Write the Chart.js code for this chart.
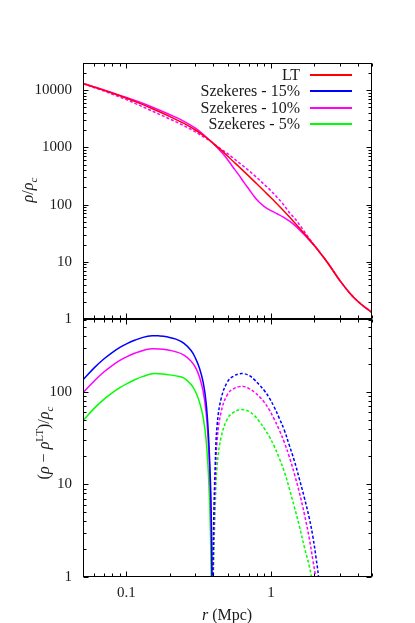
<!DOCTYPE html>
<html><head><meta charset="utf-8">
<script src="https://cdn.jsdelivr.net/npm/chart.js@4.4.1/dist/chart.umd.min.js"></script>
<style>
html,body{margin:0;padding:0;background:#fff;}
#wrap{position:relative;width:415px;height:623px;overflow:hidden;font-family:"Liberation Serif","DejaVu Serif",serif;color:#1a1a1a;}
canvas{position:absolute;left:0;}
#c1{top:0;}
#c2{top:310px;}
.t{position:absolute;white-space:nowrap;font-size:16px;line-height:1;}
.rot{transform:translate(-50%,-50%) rotate(-90deg);}
.ctr{transform:translate(-50%,-50%);}
sub,sup{font-size:70%;line-height:0;}
#legend .row{position:absolute;left:0;width:415px;height:16px;}
#legend .txt{position:absolute;right:115px;top:0;font-size:16px;line-height:16px;white-space:nowrap;}
#legend .smp{position:absolute;left:310px;width:42px;top:7px;height:2px;}
</style></head>
<body><div id="wrap">
<canvas id="c1" width="415" height="330"></canvas>
<canvas id="c2" width="415" height="313"></canvas>
<div id="legend"></div>
<div class="t rot" style="left:28px;top:190px;"><i>ρ</i>/<i>ρ</i><sub><i>c</i></sub></div>
<div class="t rot" style="left:44px;top:443px;">(<i>ρ</i> − <i>ρ</i><sup>LT</sup>)/<i>ρ</i><sub><i>c</i></sub></div>
<div class="t ctr" style="left:227px;top:615px;"><i>r</i> (Mpc)</div>
</div>
<script>
// ---------- axis limits & tick labels ----------
const xRange = [0.05, 5];
const yRangeTop = [1, 30000];
const yRangeBottom = [1, 610];
const xTickLabels = [0.1, 1];
const yTickLabelsTop = [1, 10, 100, 1000, 10000];
const yTickLabelsBottom = [1, 10, 100];

// ---------- upper panel: density profiles ----------
const rLT = [0.05,0.06,0.07,0.08,0.1,0.12,0.15,0.2,0.25,0.3,0.35,0.4,0.45,0.5,0.6,0.7,0.8,0.9,1.0,1.2,1.5,1.7,2.0,2.27,2.5,3.0,3.5,4.0,4.5,5.0];
const rhoLT = [13100,11300,9950,8870,7260,6080,4810,3470,2630,2020,1540,1170,906,710,460,318,229,171,131.5,82,44.7,31.2,19.1,12.7,9.17,4.68,2.86,2.02,1.58,1.31];

const rS10a = [0.05,0.06,0.07,0.08,0.1,0.12,0.15,0.2,0.25,0.3,0.35,0.39,0.43,0.47,0.5,0.543,0.6,0.65,0.708,0.76,0.83,0.9,1.0,1.1,1.2,1.3,1.4,1.5,1.6,1.7,1.8,1.9,2.0,2.27,2.5,3.0,3.5,4.0,4.5,5.0];
const rhoS10a = [13200,11430,10115,9066,7500,6350,5100,3740,2860,2170,1590,1233,961,750,614,461,328,245,182,142,110,92.4,78.5,69.4,61.9,54.3,47.5,40.9,34.8,29.7,25.4,21.8,19.1,12.7,9.17,4.68,2.86,2.02,1.58,1.31];

const rS10b = [0.05,0.06,0.07,0.08,0.1,0.12,0.15,0.2,0.25,0.3,0.35,0.39,0.43,0.47,0.5,0.55,0.6,0.7,0.8,0.9,1.0,1.1,1.2,1.33,1.5,1.7,1.84,2.0,2.27,2.5,3.0,3.5,4.0,4.5,5.0];
const rhoS10b = [13000,11100,9650,8500,6850,5600,4350,3130,2400,1870,1470,1233,1020,868,782,647,543,397,295,224,174,135,106,74.6,52.7,33.9,25.5,19.3,12.7,9.17,4.68,2.86,2.02,1.58,1.31];

// ---------- lower panel: |rho - rho_LT| / rho_c ----------
const rInner = [0.05,0.06,0.07,0.08,0.09,0.1,0.115,0.13,0.15,0.17,0.19,0.22,0.25,0.28,0.3,0.32,0.34,0.356,0.37,0.38,0.385,0.389,0.392];
const diff15Inner = [135,183,228,268,303,331,364,389,405,403,394,372,335,280,232,180,125,75,32,12,5.5,2,0.3];
const diff10Inner = [97.8,132,165,194,219,239,263,281,292,291,285,271,250,215,184,145,99.7,59.2,24.9,9.1,3.97,1.2,0.3];
const diff5Inner  = [49,66.7,83.6,98.2,111,122,136,147,157,157,154,149,141,120,101,77.5,52.1,29.8,11.8,3.6,1.23,0.5,0.3];

const rOuter = [0.393,0.40,0.411,0.424,0.453,0.502,0.55,0.604,0.654,0.708,0.77,0.83,0.9,0.973,1.05,1.14,1.24,1.336,1.45,1.567,1.7,1.84,1.95,2.05,2.13,2.18];
const diff15Outer = [0.3,3,16,44,86,130,148,157,157,150,135,119,103,86,69,52,38,26.7,18,11.6,7.2,4.3,2.7,1.6,1.0,0.5];
const diff10Outer = [0.3,2,10,30,62,95,108,114,114,108,99,89,77,64,51,38.8,28,20,13,8.3,4.8,2.6,1.5,0.9,0.4,0.2];
const diff5Outer  = [0.3,1.2,5.5,16,33,52,60,64,64,61,55,47.8,40,32.9,26,19.2,13.5,9.1,5.7,3.6,2.1,1.3,0.8,0.4,0.2,0.1];

const RED = '#ff0000', BLUE = '#0000ff', MAG = '#ff00ff', GRN = '#00ff00';
const pts = (xs, ys) => xs.map((x, i) => ({x: x, y: ys[i]}));

// gnuplot style frame with inward ticks on all four sides
const frameTicks = {
  id: 'frameTicks',
  afterDraw(chart) {
    const {ctx, chartArea: a, scales} = chart;
    ctx.save();
    ctx.strokeStyle = '#000';
    ctx.lineWidth = 1;
    const L = Math.round(a.left) + 0.5, R = Math.round(a.right) - 0.5;
    const T = Math.round(a.top) + 0.5, B = Math.round(a.bottom) - 0.5;
    ctx.strokeRect(L, T, R - L, B - T);
    const logTicks = (mn, mx) => {
      const out = [];
      for (let k = Math.floor(Math.log10(mn)) - 1; k <= Math.ceil(Math.log10(mx)); k++) {
        for (let m = 1; m <= 9; m++) {
          const v = m * Math.pow(10, k);
          if (v >= mn * 0.9999 && v <= mx * 1.0001) out.push({v: v, major: m === 1});
        }
      }
      return out;
    };
    ctx.beginPath();
    const xs = scales.x;
    logTicks(xs.min, xs.max).forEach(t => {
      const p = Math.round(xs.getPixelForValue(t.v)) + 0.5;
      const len = t.major ? 5 : 3;
      ctx.moveTo(p, B); ctx.lineTo(p, B - len);
      ctx.moveTo(p, T); ctx.lineTo(p, T + len);
    });
    const ys = scales.y;
    logTicks(ys.min, ys.max).forEach(t => {
      const p = Math.round(ys.getPixelForValue(t.v)) + 0.5;
      const len = t.major ? 5 : 3;
      ctx.moveTo(L, p); ctx.lineTo(L + len, p);
      ctx.moveTo(R, p); ctx.lineTo(R - len, p);
    });
    ctx.stroke();
    ctx.restore();
  }
};

const noPad = s => { s.paddingTop = 0; s.paddingBottom = 0; s.paddingLeft = 0; s.paddingRight = 0; };
const tickFont = {family: '"Liberation Serif", serif', size: 15};
const common = {
  responsive: false, animation: false, devicePixelRatio: 1,
  plugins: {legend: {display: false}, tooltip: {enabled: false}},
  elements: {point: {radius: 0}, line: {borderWidth: 1.5}}
};
const line = (label, data, color, dash, mono) => ({
  label: label, data: data, borderColor: color, backgroundColor: color,
  showLine: true, fill: false, pointRadius: 0, borderDash: dash || [],
  tension: 0.4, cubicInterpolationMode: mono ? 'monotone' : 'default'
});

const topChart = new Chart(document.getElementById('c1'), {
  type: 'scatter',
  data: {datasets: [
    line('LT', pts(rLT, rhoLT), RED, null, true),
    line('Szekeres - 15%', [], BLUE),
    line('Szekeres - 10%', pts(rS10a, rhoS10a), MAG, null, true),
    line('Szekeres - 5%', [], GRN),
    line('', pts(rS10b, rhoS10b), MAG, [3, 2], true)
  ]},
  options: Object.assign({}, common, {
    layout: {padding: {top: 63, right: 43, bottom: 11, left: 0}},
    scales: {
      x: {type: 'logarithmic', min: xRange[0], max: xRange[1], display: false,
          afterFit: s => { noPad(s); }},
      y: {type: 'logarithmic', min: yRangeTop[0], max: yRangeTop[1],
          grid: {display: false, drawTicks: false}, border: {display: false},
          afterBuildTicks: s => { s.ticks = yTickLabelsTop.map(v => ({value: v})); },
          afterFit: s => { s.width = 83; noPad(s); },
          ticks: {font: tickFont, color: '#1a1a1a', padding: 11, autoSkip: false, callback: v => String(v)}}
    }
  }),
  plugins: [frameTicks]
});

const bottomChart = new Chart(document.getElementById('c2'), {
  type: 'scatter',
  data: {datasets: [
    line('Szekeres - 15%', pts(rInner, diff15Inner), BLUE),
    line('Szekeres - 15% (outer)', pts(rOuter, diff15Outer), BLUE, [3, 2]),
    line('Szekeres - 10%', pts(rInner, diff10Inner), MAG),
    line('Szekeres - 10% (outer)', pts(rOuter, diff10Outer), MAG, [3, 2]),
    line('Szekeres - 5%', pts(rInner, diff5Inner), GRN),
    line('Szekeres - 5% (outer)', pts(rOuter, diff5Outer), GRN, [3, 2])
  ]},
  options: Object.assign({}, common, {
    layout: {padding: {top: 9.3, right: 43, bottom: 0, left: 0}},
    scales: {
      x: {type: 'logarithmic', min: xRange[0], max: xRange[1],
          grid: {display: false, drawTicks: false}, border: {display: false},
          afterBuildTicks: s => { s.ticks = xTickLabels.map(v => ({value: v})); },
          afterFit: s => { s.height = 46.3; noPad(s); },
          ticks: {font: tickFont, color: '#1a1a1a', padding: 7, autoSkip: false, maxRotation: 0, callback: v => String(v)}},
      y: {type: 'logarithmic', min: yRangeBottom[0], max: yRangeBottom[1],
          grid: {display: false, drawTicks: false}, border: {display: false},
          afterBuildTicks: s => { s.ticks = yTickLabelsBottom.map(v => ({value: v})); },
          afterFit: s => { s.width = 83; noPad(s); },
          ticks: {font: tickFont, color: '#1a1a1a', padding: 11, autoSkip: false, callback: v => String(v)}}
    }
  }),
  plugins: [frameTicks]
});

// legend built from the upper chart's labelled datasets
const legend = document.getElementById('legend');
topChart.data.datasets.filter(d => d.label).forEach((d, i) => {
  const row = document.createElement('div');
  row.className = 'row';
  row.style.top = Math.round(67 + i * 16.4) + 'px';
  const txt = document.createElement('span');
  txt.className = 'txt'; txt.textContent = d.label;
  const smp = document.createElement('span');
  smp.className = 'smp'; smp.style.background = d.borderColor;
  row.appendChild(txt); row.appendChild(smp);
  legend.appendChild(row);
});
</script>
</body></html>
